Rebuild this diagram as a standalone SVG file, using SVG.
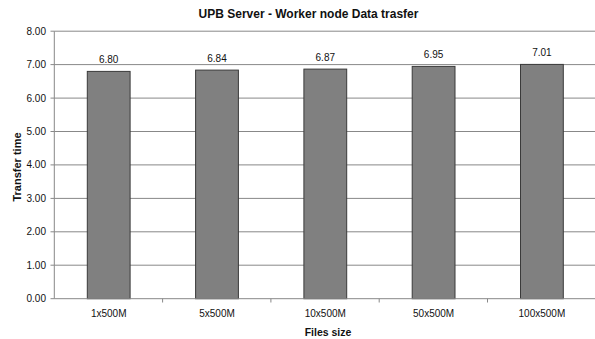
<svg xmlns="http://www.w3.org/2000/svg" width="595" height="339" viewBox="0 0 595 339">
<style>
text{font-family:"Liberation Sans",Arial,sans-serif;fill:#111}
.t{font-size:10.5px;font-weight:bold}
.ax{font-size:10px;text-anchor:end}
.cat{font-size:10px;text-anchor:middle}
.val{font-size:10px;text-anchor:middle}
.grid{stroke:#888;stroke-width:1}
.axis{stroke:#888;stroke-width:1}
.bar{fill:#808080;stroke:#3a3a3a;stroke-width:1}
</style>
<rect width="595" height="339" fill="#fff"/>
<text class="t" x="308.5" y="18" text-anchor="middle" style="font-size:12px">UPB Server - Worker node Data trasfer</text>
<g id="grid">
<line class="grid" x1="54.3" y1="31.2" x2="596" y2="31.2"/>
<line class="grid" x1="54.3" y1="64.6" x2="596" y2="64.6"/>
<line class="grid" x1="54.3" y1="98.1" x2="596" y2="98.1"/>
<line class="grid" x1="54.3" y1="131.5" x2="596" y2="131.5"/>
<line class="grid" x1="54.3" y1="164.9" x2="596" y2="164.9"/>
<line class="grid" x1="54.3" y1="198.4" x2="596" y2="198.4"/>
<line class="grid" x1="54.3" y1="231.8" x2="596" y2="231.8"/>
<line class="grid" x1="54.3" y1="265.2" x2="596" y2="265.2"/>
</g>
<g id="yaxis">
<line class="axis" x1="54.3" y1="31.2" x2="54.3" y2="298.7"/>
<line class="axis" x1="50.5" y1="31.2" x2="54.3" y2="31.2"/>
<line class="axis" x1="50.5" y1="64.6" x2="54.3" y2="64.6"/>
<line class="axis" x1="50.5" y1="98.1" x2="54.3" y2="98.1"/>
<line class="axis" x1="50.5" y1="131.5" x2="54.3" y2="131.5"/>
<line class="axis" x1="50.5" y1="164.9" x2="54.3" y2="164.9"/>
<line class="axis" x1="50.5" y1="198.4" x2="54.3" y2="198.4"/>
<line class="axis" x1="50.5" y1="231.8" x2="54.3" y2="231.8"/>
<line class="axis" x1="50.5" y1="265.2" x2="54.3" y2="265.2"/>
<line class="axis" x1="50.5" y1="298.7" x2="54.3" y2="298.7"/>
<text class="ax" x="46" y="34.7">8.00</text>
<text class="ax" x="46" y="68.1">7.00</text>
<text class="ax" x="46" y="101.6">6.00</text>
<text class="ax" x="46" y="135">5.00</text>
<text class="ax" x="46" y="168.4">4.00</text>
<text class="ax" x="46" y="201.9">3.00</text>
<text class="ax" x="46" y="235.3">2.00</text>
<text class="ax" x="46" y="268.7">1.00</text>
<text class="ax" x="46" y="302.2">0.00</text>
<text class="t" transform="translate(20.5,167) rotate(-90)" text-anchor="middle" style="font-size:11px">Transfer time</text>
</g>
<g id="bars">
<g id="bar1"><rect class="bar" x="87.3" y="71.4" width="42.8" height="227.3"/><text class="val" x="108.7" y="63">6.80</text></g>
<g id="bar2"><rect class="bar" x="195.6" y="70.1" width="42.8" height="228.6"/><text class="val" x="217" y="61.7">6.84</text></g>
<g id="bar3"><rect class="bar" x="303.9" y="69.1" width="42.8" height="229.6"/><text class="val" x="325.3" y="60.7">6.87</text></g>
<g id="bar4"><rect class="bar" x="412.2" y="66.4" width="42.8" height="232.3"/><text class="val" x="433.6" y="58">6.95</text></g>
<g id="bar5"><rect class="bar" x="520.5" y="64.4" width="42.8" height="234.3"/><text class="val" x="541.9" y="56">7.01</text></g>
</g>
<g id="xaxis">
<line class="axis" x1="54.3" y1="298.7" x2="596" y2="298.7"/>
<line class="axis" x1="162.6" y1="298.7" x2="162.6" y2="302.5"/>
<line class="axis" x1="270.9" y1="298.7" x2="270.9" y2="302.5"/>
<line class="axis" x1="379.2" y1="298.7" x2="379.2" y2="302.5"/>
<line class="axis" x1="487.5" y1="298.7" x2="487.5" y2="302.5"/>
<text class="cat" x="108.7" y="317">1x500M</text>
<text class="cat" x="217" y="317">5x500M</text>
<text class="cat" x="325.3" y="317">10x500M</text>
<text class="cat" x="433.6" y="317">50x500M</text>
<text class="cat" x="541.9" y="317">100x500M</text>
<text class="t" x="328" y="336" text-anchor="middle">Files size</text>
</g>
</svg>
